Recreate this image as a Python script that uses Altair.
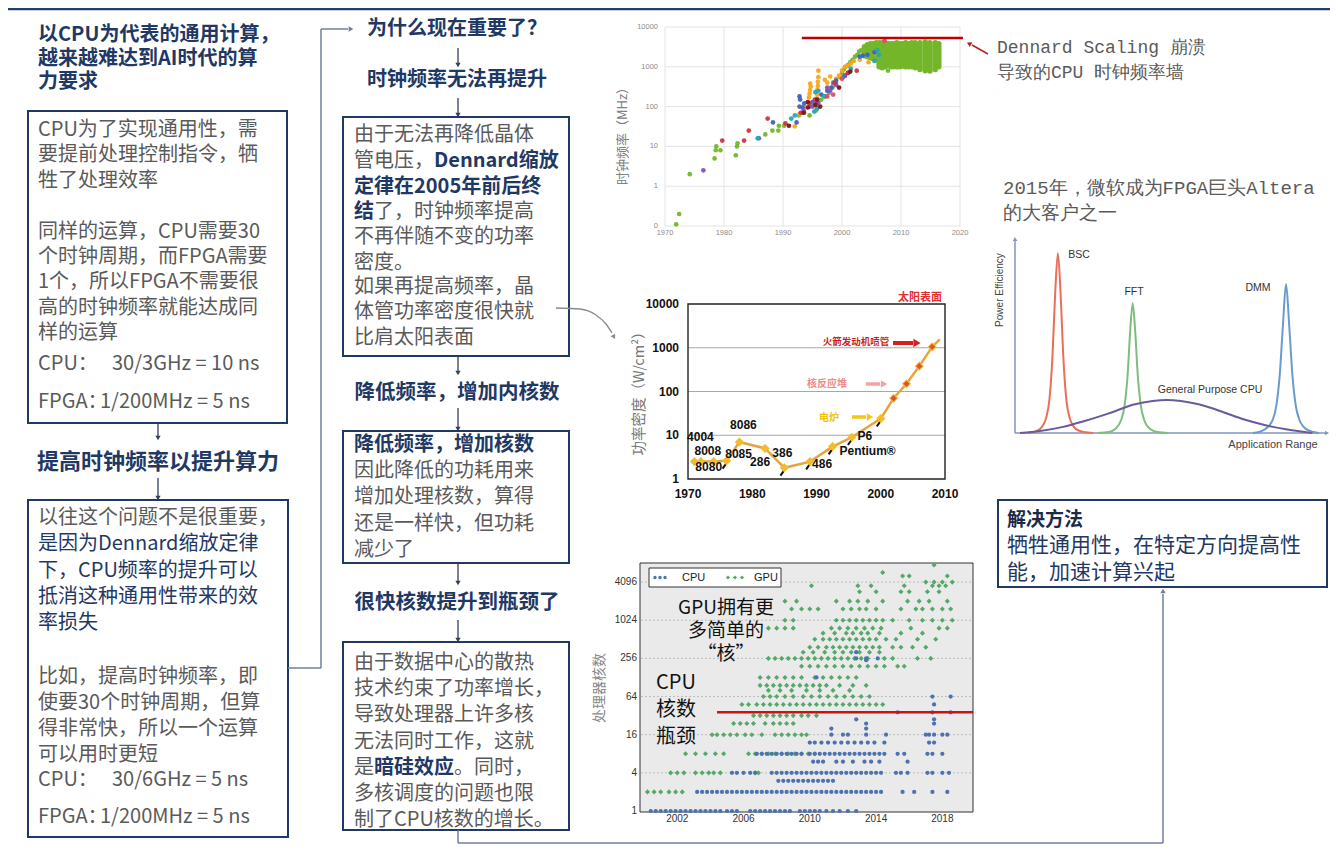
import altair as alt
import pandas as pd

# ============================ DATA ============================
# --- Chart A: CPU clock frequency (MHz) by year ---
clk_xticks = [1970, 1980, 1990, 2000, 2010, 2020]
clk_yticks = [0.1, 1, 10, 100, 1000, 10000]
clk_ylabels = ["0", "1", "10", "100", "1000", "10000"]

clk_green_year = [1971.9, 1972.4, 1974.2, 1978.4, 1978.6, 1978.7, 1979.4, 1982.0, 1982.2, 1982.3,
                  1987.0, 1988.2, 1989.2, 1989.3, 1990.2, 1992.7, 1993.6, 1994.5, 1995.6, 1996.5,
                  1997.2, 1997.8, 1998.4, 1999.0, 1999.6, 2000.0, 2000.3, 2000.6, 2001.0, 2001.4,
                  2001.8, 2002.2, 2002.6, 2002.9, 2003.2, 2007.8]
clk_green_mhz = [0.11, 0.2, 2, 5, 8, 10, 8, 6, 10, 12,
                 20, 25, 25, 33, 33, 60, 70, 60, 80, 150,
                 180, 220, 300, 400, 550, 700, 850, 1000, 1100, 1300,
                 1500, 1800, 2000, 2400, 2600, 800]
clk_orange_year = [1992.0, 1992.8, 1993.5, 1994.4, 1994.5, 1994.6, 1994.7, 1994.6, 1995.7, 1995.7,
                   1995.8, 1995.8, 1995.9, 1995.9, 1996.0, 1996.0, 1997.1, 1997.5, 1998.0, 1998.5,
                   1999.0, 1999.5, 2000.0, 2000.5, 2001.0, 2001.5, 2002.0, 2003.0, 2004.5, 2005.5]
clk_orange_mhz = [32, 65, 100, 170, 210, 260, 320, 380, 125, 160,
                  200, 260, 330, 420, 550, 800, 470, 400, 570, 350,
                  500, 600, 800, 1000, 1050, 1200, 1400, 1500, 1300, 2200]
clk_blue_year = [1985.9, 1988.3, 1992.3, 1992.8, 1992.8, 1992.9, 1993.3, 1993.6, 1994.5, 1995.0,
                 1996.5, 1997.5, 1998.2, 1999.0, 2000.5, 2001.0, 2003.0, 2003.5, 2004.3, 2005.5]
clk_blue_mhz = [16, 40, 40, 100, 180, 150, 95, 120, 100, 130,
                200, 250, 300, 450, 600, 700, 1800, 1900, 2000, 2300]
clk_teal_year = [1985.7, 1991.4, 1992.0, 1995.3, 1995.3, 1995.5, 1995.8, 1996.0, 1997.0, 1998.5,
                 2000.2, 2001.5, 2005.5, 2006.0, 2006.3]
clk_teal_mhz = [16, 50, 60, 75, 110, 230, 90, 250, 180, 400, 550, 900, 1400, 2600, 2000]
clk_purple_year = [1976.5, 1993.5, 1995.0, 1995.7, 1996.0, 1997.5, 1998.0, 1999.0, 2000.5]
clk_purple_mhz = [2.5, 80, 100, 120, 125, 300, 250, 350, 600]
clk_red_year = [1979.7, 1983.4, 1984.2, 1987.4, 1990.4, 1993.0, 1994.5, 1995.4, 1998.7, 2001.0, 2002.5]
clk_red_mhz = [14, 14, 25, 50, 38, 70, 120, 150, 400, 700, 800]
clk_darkred_year = [1991.0, 1993.5, 1994.2, 1994.2, 1995.5, 1995.8, 1996.3, 1999.5, 2001.4]
clk_darkred_mhz = [33, 70, 95, 130, 110, 150, 100, 300, 760]
clk_pink_year = [1997.5, 1998.5, 2000.0, 2007.2]
clk_pink_mhz = [180, 200, 500, 4500]
# dense columns of green points 2003-2016: column year, lowest and highest MHz
band_year = [2003.8, 2004.3, 2004.8, 2005.3, 2005.8, 2006.3, 2006.8, 2007.3, 2007.8, 2008.3, 2008.8,
             2009.3, 2009.8, 2010.3, 2010.8, 2011.3, 2011.8, 2012.4, 2013.2, 2014.1, 2014.9, 2015.8, 2016.4]
band_low = [1900, 1800, 1700, 1600, 1500, 1000, 950, 1000, 1100, 1000, 1000,
            1000, 1000, 1050, 1000, 1000, 1000, 950, 850, 800, 780, 850, 1000]
band_high = [3200, 3600, 3800, 3800, 4000, 4000, 4000, 4000, 3800, 3800, 3800,
             4000, 3800, 3800, 4000, 3800, 4000, 4000, 4000, 4200, 4000, 4000, 3800]
wall_from, wall_to, wall_mhz = 1993.2, 2020.5, 5300

# --- Chart B: power density (W/cm2) ---
pwr_xticks = [1970, 1980, 1990, 2000, 2010]
pwr_yticks = [1, 10, 100, 1000, 10000]
pwr_year = [1971, 1972, 1974, 1976, 1978, 1982, 1985, 1989, 1992.5, 1995.5, 2000, 2002, 2004, 2006, 2008]
pwr_value = [2.5, 2.5, 2.5, 2.6, 7.0, 5.0, 1.8, 2.5, 5.5, 9.0, 24, 70, 150, 380, 1050]
pwr_name = ["4004", "8008", "8080", "8085", "8086", "286", "386", "486", "Pentium®", "P6", "", "", "", "", ""]
pwr_trend_year = [2008, 2009.2]
pwr_trend_value = [1050, 1550]

# --- Chart C: processor core counts ---
core_xticks = [2002, 2006, 2010, 2014, 2018]
core_yticks = [1, 4, 16, 64, 256, 1024, 4096]
core_wall = 36
core_wall_from, core_wall_to = 2004.4, 2019.85
cpu_rows = {
    1: [2000.4, 2000.7, 2001.0, 2001.3, 2001.6, 2001.9, 2002.2, 2002.5, 2002.8, 2003.1, 2003.4, 2003.7,
        2004.0, 2004.3, 2004.6, 2005.0, 2005.3, 2005.6, 2006.4, 2006.7, 2007.0, 2007.3, 2007.6, 2007.9,
        2008.2, 2008.5, 2008.8, 2009.4, 2009.7, 2010.0, 2010.3, 2010.6, 2011.0, 2011.4, 2011.8, 2012.3, 2012.8],
    2: [2003.2, 2003.5, 2003.8, 2004.1, 2004.4, 2004.7, 2005.0, 2005.3, 2005.6, 2005.9, 2006.2, 2006.5,
        2006.8, 2007.1, 2007.4, 2007.7, 2008.0, 2008.3, 2008.6, 2008.9, 2009.2, 2009.5, 2009.8, 2010.1,
        2010.4, 2010.7, 2011.0, 2011.3, 2011.6, 2011.9, 2012.2, 2012.5, 2012.8, 2013.1, 2013.4, 2013.7,
        2014.0, 2014.3, 2015.6, 2016.3, 2017.4, 2018.3],
    3: [2008.1, 2008.4, 2008.7, 2009.0, 2009.3, 2009.6, 2009.9, 2010.2, 2010.5, 2010.8, 2011.1, 2011.4],
    4: [2005.3, 2005.6, 2006.0, 2006.4, 2006.7, 2007.7, 2008.0, 2008.3, 2008.6, 2008.9, 2009.2, 2009.5,
        2009.8, 2010.1, 2010.4, 2010.7, 2011.0, 2011.3, 2011.6, 2011.9, 2012.2, 2012.5, 2012.8, 2013.1,
        2013.4, 2013.7, 2014.0, 2014.3, 2015.2, 2015.5, 2015.9, 2017.1, 2017.4, 2018.0, 2018.4],
    6: [2010.2, 2010.5, 2010.8, 2011.6, 2012.0, 2012.6, 2013.3, 2013.7, 2014.2, 2015.9],
    8: [2006.8, 2007.1, 2007.4, 2007.7, 2008.0, 2008.3, 2008.6, 2008.9, 2009.2, 2009.5, 2010.0, 2010.3,
        2010.6, 2010.9, 2011.2, 2011.5, 2011.8, 2012.1, 2012.4, 2012.7, 2013.0, 2013.3, 2013.6, 2013.9,
        2014.2, 2014.5, 2015.3, 2015.7, 2017.1, 2017.4, 2018.0],
    12: [2010.0, 2010.3, 2010.7, 2011.1, 2011.5, 2011.9, 2012.3, 2012.7, 2013.1, 2013.5, 2013.9, 2014.5,
         2017.2, 2017.5],
    16: [2011.3, 2012.0, 2012.3, 2013.4, 2014.6, 2017.0, 2017.2, 2017.5, 2018.0, 2018.3],
    20: [2011.3, 2013.4],
    24: [2013.4, 2017.5],
    28: [2012.8, 2017.5],
    36: [2015.3, 2017.4, 2018.5],
    48: [2017.5],
    64: [2017.4, 2018.5],
    128: [2010.4],
    240: [2013.4],
    256: [2012.8, 2013.4, 2014.1],
    320: [2012.8],
}
gpu_rows = {
    2: [2000.2, 2000.6, 2001.0, 2001.5, 2001.9, 2002.3],
    4: [2001.6, 2002.0, 2002.4, 2003.1, 2003.5, 2003.9, 2004.2, 2004.6, 2006.7, 2006.9],
    8: [2002.5, 2003.1, 2003.7, 2004.3, 2004.8, 2006.3, 2006.7, 2007.1, 2007.5, 2007.9, 2008.3, 2008.7,
        2009.1, 2009.5, 2009.9, 2010.3],
    16: [2004.1, 2004.4, 2004.8, 2005.2, 2005.6, 2006.1, 2006.5, 2007.1, 2007.9, 2008.3, 2008.7, 2009.1,
         2009.5, 2009.8],
    24: [2005.4, 2005.8, 2006.2, 2006.6, 2007.3, 2007.8, 2008.2, 2008.6, 2009.0],
    32: [2006.6, 2007.0, 2007.4, 2007.8, 2008.2, 2008.6, 2009.0, 2009.5, 2009.9, 2010.4],
    48: [2005.9, 2006.3, 2006.8, 2007.2, 2007.6, 2008.0, 2008.4, 2008.8, 2009.2, 2009.6, 2010.0, 2010.4,
         2010.8, 2011.2, 2011.6, 2012.0, 2012.4, 2012.8, 2013.2, 2013.6, 2014.0, 2014.4],
    64: [2007.2, 2007.6, 2008.0, 2008.5, 2009.0, 2009.6, 2010.1, 2010.6, 2011.1, 2011.6, 2012.1, 2012.6,
         2013.1, 2013.6],
    80: [2007.5, 2008.2, 2008.9, 2009.8, 2010.6, 2011.4, 2012.4],
    96: [2007.0, 2007.4, 2007.8, 2008.2, 2008.6, 2009.0, 2009.4, 2009.8, 2010.2, 2010.6, 2011.0, 2011.8,
         2012.6, 2013.4],
    128: [2007.0, 2007.5, 2008.0, 2008.5, 2009.0, 2009.5, 2010.3, 2010.8, 2011.3, 2011.8, 2012.3, 2012.8],
    192: [2009.5, 2010.0, 2010.5, 2011.0, 2011.5, 2012.0, 2012.5, 2013.0, 2013.5, 2014.0, 2014.5, 2015.3, 2015.7],
    256: [2007.5, 2007.9, 2008.3, 2008.7, 2009.1, 2009.5, 2009.9, 2010.3, 2010.7, 2011.1, 2011.5, 2011.9,
          2012.3, 2012.7, 2013.1, 2013.5, 2014.5, 2015.0, 2016.5, 2017.3],
    320: [2009.6, 2010.2, 2010.9, 2011.5, 2012.0, 2012.5, 2013.0, 2013.6, 2014.2],
    384: [2010.0, 2010.5, 2011.0, 2011.4, 2011.8, 2012.2, 2012.6, 2013.0, 2013.4, 2013.8, 2014.2, 2015.0,
          2015.5, 2016.2, 2017.0],
    512: [2010.3, 2010.8, 2011.2, 2011.6, 2012.0, 2012.4, 2012.8, 2013.2, 2013.6, 2014.0, 2014.6, 2015.2,
          2016.5, 2017.6],
    640: [2010.8, 2011.5, 2012.2, 2012.6, 2013.1, 2013.5, 2014.2, 2015.5, 2016.8],
    768: [2007.5, 2008.0, 2008.5, 2009.0, 2011.3, 2011.8, 2012.3, 2012.8, 2013.3, 2013.8, 2014.3, 2016.1,
          2017.8, 2018.3],
    1024: [2008.5, 2009.0, 2011.6, 2012.0, 2012.4, 2012.8, 2013.2, 2013.6, 2014.0, 2014.4, 2015.0, 2016.0,
           2016.8, 2017.4, 2018.0, 2018.6],
    1536: [2008.9, 2009.5, 2010.0, 2010.5, 2012.0, 2012.5, 2013.0, 2013.4, 2014.0, 2015.5, 2016.4, 2016.8,
           2017.4, 2018.0, 2018.5],
    2048: [2008.5, 2009.2, 2011.6, 2012.4, 2012.9, 2013.5, 2014.4, 2015.9, 2016.6, 2017.2, 2018.3],
    2880: [2013.0, 2014.0, 2015.5, 2016.0, 2017.1, 2017.8],
    3584: [2010.1, 2012.9, 2013.7, 2015.7, 2017.4, 2017.8, 2018.2],
    4096: [2017.0, 2017.5, 2018.0, 2018.6],
    5120: [2015.6, 2016.0, 2018.3],
    5800: [2014.4],
    7600: [2017.5],
}

# --- Chart D: power efficiency vs application range (sampled curve points) ---
bsc_x = [4, 6, 8, 10, 11, 12, 12.8, 13.7, 14.6, 15.4, 16.4, 17.4, 19.5, 22, 25]
bsc_y = [0, 0.5, 2, 8, 17, 40, 70, 91.7, 70, 40, 17, 8, 2, 0.5, 0]
fft_x = [26.5, 30, 32, 34, 35, 36, 36.8, 37.6, 38.4, 39.2, 40.2, 41.2, 43.2, 45.5, 48.9]
fft_y = [0, 0.5, 2, 7, 14, 30, 52, 66.2, 52, 30, 14, 7, 2, 0.5, 0]
dmm_x = [76, 78, 80, 82.4, 83.5, 84.6, 85.6, 86.6, 87.6, 88.6, 89.7, 90.8, 93, 95.5, 97]
dmm_y = [0, 0.5, 2, 7, 14, 30, 55, 76, 55, 30, 14, 7, 2, 0.5, 0]
gpc_x = [1.6, 8, 15, 22, 30, 38, 44, 48.5, 53, 59, 66, 73, 80, 87, 95]
gpc_y = [0, 1, 3, 6, 10, 14.5, 16.3, 16.8, 16.3, 14.5, 11, 7, 4, 1.8, 0]

# ============================ LAYOUT / STYLE ============================
W, H = 1322, 836
OX, OY = 8, 8
CJK = "Noto Sans CJK SC"
SANS = "Liberation Sans"
MONO = "Liberation Mono"
NAVY = "#1F3864"
GRAY = "#5A5A5A"
CONN = "#6F7F9F"
ARW = "#34405C"


def px(x):
    return x - OX


def py(y):
    return y - OY


def one():
    return alt.Chart(pd.DataFrame({"k": [0]}))


def T(s, x, y, size=20, color=GRAY, weight="normal", align="left", font=CJK, angle=0):
    kw = dict(text=s, align=align, baseline="middle", fontSize=size, color=color,
              fontWeight=weight, font=font)
    if angle:
        kw["angle"] = angle
    return one().mark_text(**kw).encode(x=alt.value(px(x)), y=alt.value(py(y)))


def wlen(s, size):
    w = 0.0
    for ch in s:
        if ord(ch) >= 0x2E80:
            w += size
        elif ch == " ":
            w += 0.28 * size
        elif ch.isupper():
            w += 0.66 * size
        else:
            w += 0.57 * size
    return w


def rich(x, y, segs, size=20):
    out = []
    for s, style in segs:
        if style == "b":
            out.append(T(s, x, y, size, NAVY, "bold"))
        elif style == "n":
            out.append(T(s, x, y, size, NAVY, "normal"))
        else:
            out.append(T(s, x, y, size, GRAY, "normal"))
        x += wlen(s, size)
    return out


def box(x1, y1, x2, y2, stroke=NAVY, sw=2.0, fill="white"):
    return one().mark_rect(fill=fill, stroke=stroke, strokeWidth=sw).encode(
        x=alt.value(px(x1)), x2=alt.value(px(x2)), y=alt.value(py(y1)), y2=alt.value(py(y2)))


def seg(x1, y1, x2, y2, color, w=1.5):
    return one().mark_rule(color=color, strokeWidth=w).encode(
        x=alt.value(px(x1)), y=alt.value(py(y1)), x2=alt.value(px(x2)), y2=alt.value(py(y2)))


def head(x, y, shape, color, size=30, angle=0):
    kw = dict(shape=shape, filled=True, size=size, color=color, opacity=1, strokeWidth=0)
    if angle:
        kw["angle"] = angle
    return one().mark_point(**kw).encode(x=alt.value(px(x)), y=alt.value(py(y)))


def down_arrow(x, y1, y2):
    return [seg(x, y1, x, y2 - 3, ARW, 1.3), head(x, y2 - 2, "triangle-down", ARW, 28)]


layers = []
add = layers.extend

# top rule
add([seg(8, 9, 1330, 9, "#1F3F73", 2.5)])

# ---------------- left column ----------------
for i, s in enumerate(["以CPU为代表的通用计算，", "越来越难达到AI时代的算", "力要求"]):
    add([T(s, 38, 35 + 23.5 * i, 20, NAVY, "bold")])

add([box(28, 111, 287, 423)])
box1 = ["CPU为了实现通用性，需", "要提前处理控制指令，牺", "牲了处理效率", "",
        "同样的运算，CPU需要30", "个时钟周期，而FPGA需要", "1个，所以FPGA不需要很",
        "高的时钟频率就能达成同", "样的运算"]
for i, s in enumerate(box1):
    if s:
        add([T(s, 38, 130 + 25.4 * i)])
add([T("CPU：", 38, 364), T("30/3GHz = 10 ns", 112, 364),
     T("FPGA：", 38, 402), T("1/200MHz = 5 ns", 100, 402)])
add(down_arrow(158, 423, 440))
add([T("提高时钟频率以提升算力", 158, 462, 22, NAVY, "bold", align="center")])
add(down_arrow(158, 478, 500))

add([box(28, 500, 288, 837)])
box2 = [("以往这个问题不是很重要，", "g"), ("是因为Dennard缩放定律", "n"),
        ("下，CPU频率的提升可以", "n"), ("抵消这种通用性带来的效", "n"), ("率损失", "n")]
for i, (s, st) in enumerate(box2):
    add(rich(38, 518 + 26.3 * i, [(s, st)]))
for i, s in enumerate(["比如，提高时钟频率，即", "使要30个时钟周期，但算", "得非常快，所以一个运算", "可以用时更短"]):
    add([T(s, 38, 677 + 26 * i)])
add([T("CPU：", 38, 780), T("30/6GHz = 5 ns", 112, 780),
     T("FPGA：", 38, 817), T("1/200MHz = 5 ns", 100, 817)])

# connector from box 2 to the middle column
add([seg(288, 668, 321, 668, CONN), seg(321, 668, 321, 29, CONN), seg(321, 29, 348, 29, CONN),
     head(351, 29, "triangle-right", CONN, 30)])

# ---------------- middle column ----------------
add([T("为什么现在重要了？", 457, 29, 20, NAVY, "bold", align="center")])
add(down_arrow(458, 48, 67))
add([T("时钟频率无法再提升", 457, 80, 20, NAVY, "bold", align="center")])
add(down_arrow(458, 98, 117))
add([box(343, 117, 569, 356)])
b3 = [[("由于无法再降低晶体", "g")],
      [("管电压，", "g"), ("Dennard缩放", "b")],
      [("定律在2005年前后终", "b")],
      [("结", "b"), ("了，时钟频率提高", "g")],
      [("不再伴随不变的功率", "g")],
      [("密度。", "g")],
      [("如果再提高频率，晶", "g")],
      [("体管功率密度很快就", "g")],
      [("比肩太阳表面", "g")]]
b3y = [135, 161, 187, 212, 237, 263, 287, 312, 338]
for segs, yy in zip(b3, b3y):
    add(rich(354, yy, segs))
add(down_arrow(458, 356, 375))
add([T("降低频率，增加内核数", 457, 393, 20.5, NAVY, "bold", align="center")])
add(down_arrow(458, 408, 431))
add([box(343, 431, 569, 563)])
b4 = [[("降低频率，增加核数", "b")], [("因此降低的功耗用来", "g")], [("增加处理核数，算得", "g")],
      [("还是一样快，但功耗", "g")], [("减少了", "g")]]
for i, segs in enumerate(b4):
    add(rich(354, 445 + 26.2 * i, segs))
add(down_arrow(458, 563, 585))
add([T("很快核数提升到瓶颈了", 457, 603, 20.5, NAVY, "bold", align="center")])
add(down_arrow(458, 620, 642))
add([box(343, 642, 569, 830)])
b5 = [[("由于数据中心的散热", "g")], [("技术约束了功率增长，", "g")], [("导致处理器上许多核", "g")],
      [("无法同时工作，这就", "g")], [("是", "g"), ("暗硅效应", "b"), (" 。同时，", "g")],
      [("多核调度的问题也限", "g")], [("制了CPU核数的增长。", "g")]]
for i, segs in enumerate(b5):
    add(rich(354, 663 + 26.2 * i, segs))

# bottom connector to the solution box
add([seg(458, 830, 458, 843, CONN), seg(458, 843, 1163, 843, CONN), seg(1163, 843, 1163, 594, CONN),
     head(1163, 591, "triangle-up", CONN, 30)])

# curved arrow from box 3 to chart B
IDX = alt.Scale(domain=[0, W], range=[0, W], nice=False, zero=False)
IDY = alt.Scale(domain=[0, H], range=[0, H], nice=False, zero=False)
curve = pd.DataFrame({"i": [0, 1, 2, 3, 4],
                      "x": [px(556), px(580), px(596), px(606), px(612)],
                      "y": [py(308), py(309), py(315), py(324), py(333)]})
add([alt.Chart(curve).mark_line(color="#8A8A8A", strokeWidth=1.3, interpolate="monotone").encode(
    x=alt.X("x:Q", scale=IDX, axis=None), y=alt.Y("y:Q", scale=IDY, axis=None), order="i:Q"),
    head(614, 337, "triangle-up", "#8A8A8A", 28, 150)])

# ---------------- Chart A: clock frequency ----------------
XA = alt.Scale(domain=[1970, 2020], range=[px(665), px(960)], nice=False, zero=False)
YA = alt.Scale(type="log", domain=[0.1, 10000], range=[py(226), py(27)], nice=False)
gA = "#E4E4E4"
add([alt.Chart(pd.DataFrame({"yr": clk_xticks})).mark_rule(color=gA, strokeWidth=1).encode(
        x=alt.X("yr:Q", scale=XA, axis=None), y=alt.value(py(27)), y2=alt.value(py(226))),
     alt.Chart(pd.DataFrame({"v": clk_yticks})).mark_rule(color=gA, strokeWidth=1).encode(
        y=alt.Y("v:Q", scale=YA, axis=None), x=alt.value(px(665)), x2=alt.value(px(960))),
     alt.Chart(pd.DataFrame({"yr": clk_xticks, "lab": [str(v) for v in clk_xticks]})).mark_text(
        fontSize=7.5, color="#8A8A8A", font=SANS, baseline="middle").encode(
        x=alt.X("yr:Q", scale=XA, axis=None), y=alt.value(py(233)), text="lab:N"),
     alt.Chart(pd.DataFrame({"v": clk_yticks, "lab": clk_ylabels})).mark_text(
        fontSize=7.5, color="#8A8A8A", font=SANS, align="right", baseline="middle").encode(
        y=alt.Y("v:Q", scale=YA, axis=None), x=alt.value(px(658)), text="lab:N"),
     T("时钟频率（MHz）", 623, 133, 13, "#808080", angle=270, align="center")])

add([alt.Chart(pd.DataFrame({"yr": band_year, "lo": band_low, "hi": band_high})).mark_rule(
        color="#74B62A", strokeWidth=5.5, strokeCap="round").encode(
        x=alt.X("yr:Q", scale=XA, axis=None), y=alt.Y("lo:Q", scale=YA, axis=None), y2="hi:Q")])

groups = [("green", clk_green_year, clk_green_mhz), ("orange", clk_orange_year, clk_orange_mhz),
          ("blue", clk_blue_year, clk_blue_mhz), ("teal", clk_teal_year, clk_teal_mhz),
          ("purple", clk_purple_year, clk_purple_mhz), ("red", clk_red_year, clk_red_mhz),
          ("darkred", clk_darkred_year, clk_darkred_mhz), ("pink", clk_pink_year, clk_pink_mhz)]
rows = []
for g, ys, ms in groups:
    for a, b in zip(ys, ms):
        rows.append({"yr": a, "mhz": b, "grp": g})
clk_df = pd.DataFrame(rows)
grp_dom = ["green", "orange", "blue", "teal", "purple", "red", "darkred", "pink"]
grp_col = ["#74B62A", "#F9A61B", "#3B62C4", "#22A8B8", "#8A4FB5", "#CC3340", "#7A1616", "#E0487A"]
add([alt.Chart(clk_df).mark_circle(size=22, opacity=0.95).encode(
        x=alt.X("yr:Q", scale=XA, axis=None), y=alt.Y("mhz:Q", scale=YA, axis=None),
        color=alt.Color("grp:N", scale=alt.Scale(domain=grp_dom, range=grp_col), legend=None))])
add([alt.Chart(pd.DataFrame({"a": [wall_from], "b": [wall_to], "v": [wall_mhz]})).mark_rule(
        color="#C00000", strokeWidth=2.5).encode(
        x=alt.X("a:Q", scale=XA, axis=None), x2="b:Q", y=alt.Y("v:Q", scale=YA, axis=None))])
add([seg(988, 54, 972, 45, "#B22222", 1.5), head(969, 43.5, "triangle-up", "#B22222", 30, 298)])
add([T("Dennard Scaling 崩溃", 997, 48, 18, GRAY, font=MONO),
     T("导致的CPU 时钟频率墙", 997, 73, 18, GRAY, font=MONO)])

# ---------------- Chart B: power density ----------------
XB = alt.Scale(domain=[1970, 2010], range=[px(688), px(945)], nice=False, zero=False)
YB = alt.Scale(type="log", domain=[1, 10000], range=[py(479), py(304)], nice=False)
add([alt.Chart(pd.DataFrame({"v": [10, 100, 1000]})).mark_rule(color="#A8A8A8", strokeWidth=1).encode(
        y=alt.Y("v:Q", scale=YB, axis=None), x=alt.value(px(688)), x2=alt.value(px(945))),
     box(688, 304, 945, 479, stroke="#222222", sw=1.4, fill="transparent"),
     alt.Chart(pd.DataFrame({"yr": pwr_xticks, "lab": [str(v) for v in pwr_xticks]})).mark_text(
        fontSize=12, fontWeight="bold", color="#111", font=SANS, baseline="middle").encode(
        x=alt.X("yr:Q", scale=XB, axis=None), y=alt.value(py(494)), text="lab:N"),
     alt.Chart(pd.DataFrame({"v": pwr_yticks, "lab": [str(v) for v in pwr_yticks]})).mark_text(
        fontSize=12, fontWeight="bold", color="#111", font=SANS, align="right", baseline="middle").encode(
        y=alt.Y("v:Q", scale=YB, axis=None), x=alt.value(px(679)), text="lab:N"),
     T("功率密度（W/cm²）", 640, 390, 14.5, "#777777", angle=270, align="center")])

pwr_df = pd.DataFrame({"yr": pwr_year, "v": pwr_value, "name": pwr_name, "i": list(range(len(pwr_year)))})
leader_idx = [3, 6, 7, 8, 9, 10]
add([alt.Chart(pwr_df).transform_filter(alt.FieldOneOfPredicate(field="i", oneOf=leader_idx)).mark_point(
        shape="stroke", angle=125, size=45, strokeWidth=2, color="#111", opacity=1,
        xOffset=-2, yOffset=5).encode(
        x=alt.X("yr:Q", scale=XB, axis=None), y=alt.Y("v:Q", scale=YB, axis=None)),
     alt.Chart(pwr_df).mark_line(color="#E6A33E", strokeWidth=2.5).encode(
        x=alt.X("yr:Q", scale=XB, axis=None), y=alt.Y("v:Q", scale=YB, axis=None)),
     alt.Chart(pd.DataFrame({"yr": pwr_trend_year, "v": pwr_trend_value})).mark_line(
        color="#E6A33E", strokeWidth=2.5).encode(
        x=alt.X("yr:Q", scale=XB, axis=None), y=alt.Y("v:Q", scale=YB, axis=None)),
     alt.Chart(pwr_df).mark_point(shape="diamond", filled=True, size=85, color="#F3BC2C", opacity=1).encode(
        x=alt.X("yr:Q", scale=XB, axis=None), y=alt.Y("v:Q", scale=YB, axis=None)),
     alt.Chart(pwr_df).transform_filter("datum.yr >= 2001").mark_point(
        shape="diamond", filled=True, size=40, color="#E0542C", opacity=1).encode(
        x=alt.X("yr:Q", scale=XB, axis=None), y=alt.Y("v:Q", scale=YB, axis=None))])
lab_dx = [6, 7, -5, 12, 4, -5, -2, 12, 35, 13]
lab_dy = [-25, -11, 5, -7, -17, 14, -15, 2, 4, -1]
for i in range(10):
    add([alt.Chart(pwr_df).transform_filter(alt.datum.i == i).mark_text(
        fontSize=12, fontWeight="bold", color="#111", font=SANS, dx=lab_dx[i], dy=lab_dy[i]).encode(
        x=alt.X("yr:Q", scale=XB, axis=None), y=alt.Y("v:Q", scale=YB, axis=None), text="name:N")])
add([T("太阳表面", 920, 298, 11, "#E23030", "bold", align="center"),
     T("火箭发动机喷管", 856, 342, 9.5, "#C81E1E", "bold", align="center"),
     seg(893, 343, 913, 343, "#D42020", 4), head(917, 343, "triangle-right", "#D42020", 70),
     T("核反应堆", 827, 384, 10, "#F08A8A", "bold", align="center"),
     seg(866, 384, 880, 384, "#F4A3A3", 3.5), head(884, 384, "triangle-right", "#F4A3A3", 55),
     T("电炉", 829, 418, 10, "#F2C200", "bold", align="center"),
     seg(852, 417, 866, 417, "#F5C518", 3.5), head(870, 417, "triangle-right", "#F5C518", 55)])

# ---------------- Chart C: core counts ----------------
XC = alt.Scale(domain=[1999.75, 2019.85], range=[px(640), px(973)], nice=False, zero=False)
YC = alt.Scale(type="log", base=2, domain=[1, 8192], range=[py(811), py(563)], nice=False)
add([box(640, 563, 973, 812, stroke="#333333", sw=1, fill="#EAEAEA"),
     alt.Chart(pd.DataFrame({"v": core_yticks[1:]})).mark_rule(
        color="#BDBDBD", strokeWidth=1, strokeDash=[2, 2]).encode(
        y=alt.Y("v:Q", scale=YC, axis=None), x=alt.value(px(641)), x2=alt.value(px(972))),
     alt.Chart(pd.DataFrame({"yr": core_xticks, "lab": [str(v) for v in core_xticks]})).mark_text(
        fontSize=10, color="#333", font=SANS, baseline="middle").encode(
        x=alt.X("yr:Q", scale=XC, axis=None), y=alt.value(py(819)), text="lab:N"),
     alt.Chart(pd.DataFrame({"v": core_yticks, "lab": [str(v) for v in core_yticks]})).mark_text(
        fontSize=10, color="#333", font=SANS, align="right", baseline="middle").encode(
        y=alt.Y("v:Q", scale=YC, axis=None), x=alt.value(px(637)), text="lab:N"),
     T("处理器核数", 600, 688, 14, "#8A8A8A", angle=270, align="center")])
gpu_df = pd.DataFrame([{"yr": y, "n": k} for k, ys in gpu_rows.items() for y in ys])
cpu_df = pd.DataFrame([{"yr": y, "n": k} for k, ys in cpu_rows.items() for y in ys])
add([alt.Chart(gpu_df).mark_point(shape="diamond", filled=True, size=26, color="#55A868", opacity=1).encode(
        x=alt.X("yr:Q", scale=XC, axis=None), y=alt.Y("n:Q", scale=YC, axis=None)),
     alt.Chart(cpu_df).mark_circle(size=18, color="#4C72B0", opacity=1).encode(
        x=alt.X("yr:Q", scale=XC, axis=None), y=alt.Y("n:Q", scale=YC, axis=None)),
     alt.Chart(pd.DataFrame({"a": [core_wall_from], "b": [core_wall_to], "v": [core_wall]})).mark_rule(
        color="#D01010", strokeWidth=2.5).encode(
        x=alt.X("a:Q", scale=XC, axis=None), x2="b:Q", y=alt.Y("v:Q", scale=YC, axis=None))])
# legend
add([box(649, 568, 781, 587, stroke="#333333", sw=1, fill="white")])
for xx in [655, 660, 665]:
    add([head(xx, 577.5, "circle", "#4C72B0", 12)])
for xx in [728, 735, 742]:
    add([head(xx, 577.5, "diamond", "#55A868", 18)])
add([T("CPU", 682, 577.5, 11, "#222", font=SANS), T("GPU", 754, 577.5, 11, "#222", font=SANS)])
for i, s in enumerate(["GPU拥有更", "多简单的", "“核”"]):
    add([T(s, 726, 608 + 23 * i, 19, "#111", align="center")])
for i, s in enumerate(["CPU", "核数", "瓶颈"]):
    add([T(s, 676, 683 + 27 * i, 20, "#111", align="center")])

# ---------------- Chart D: power efficiency ----------------
add([T("2015年，微软成为FPGA巨头Altera", 1003, 188, 19, GRAY, font=MONO),
     T("的大客户之一", 1003, 213, 19, GRAY, font=MONO)])
XD = alt.Scale(domain=[0, 100], range=[px(1015), px(1328)], nice=False, zero=False)
YD = alt.Scale(domain=[0, 100], range=[py(433), py(237)], nice=False, zero=False)
AX = "#8095C0"
add([seg(1015, 433, 1325, 433, AX, 1.5), head(1327, 433, "triangle-right", AX, 22),
     seg(1015, 433, 1015, 241, AX, 1.5), head(1015, 239, "triangle-up", AX, 22)])
crows = []
for name, xs, ys in [("BSC", bsc_x, bsc_y), ("FFT", fft_x, fft_y), ("DMM", dmm_x, dmm_y), ("CPU", gpc_x, gpc_y)]:
    for a, b in zip(xs, ys):
        crows.append({"c": name, "x": a, "y": b})
add([alt.Chart(pd.DataFrame(crows)).mark_line(strokeWidth=2, interpolate="monotone").encode(
        x=alt.X("x:Q", scale=XD, axis=None), y=alt.Y("y:Q", scale=YD, axis=None),
        color=alt.Color("c:N", scale=alt.Scale(domain=["BSC", "FFT", "DMM", "CPU"],
                                               range=["#E8705A", "#7DBE7D", "#6A9BD0", "#6A5A9C"]),
                        legend=None))])
add([T("BSC", 1079, 255, 10.5, "#333", align="center", font=SANS),
     T("FFT", 1134, 292, 10.5, "#333", align="center", font=SANS),
     T("DMM", 1258, 288, 10.5, "#333", align="center", font=SANS),
     T("General Purpose CPU", 1210, 390, 10.5, "#333", align="center", font=SANS),
     T("Power Efficiency", 1000, 290, 10, "#444", angle=270, align="center", font=SANS),
     T("Application Range", 1273, 445, 11, "#444", align="center", font=SANS)])

# ---------------- solution box ----------------
add([box(998, 500, 1327, 587),
     T("解决方法", 1007, 520, 19, "#1B2A4A", "bold"),
     T("牺牲通用性，在特定方向提高性", 1007, 546, 21, NAVY),
     T("能，加速计算兴起", 1007, 573, 21, NAVY)])

chart = alt.layer(*layers).resolve_scale(
    x="independent", y="independent", color="independent"
).properties(
    width=W, height=H, padding=0, background="white",
    autosize=alt.AutoSizeParams(type="none")
).configure_view(stroke=None)

chart.save("out.html", embed_options={"renderer": "svg", "actions": False})
